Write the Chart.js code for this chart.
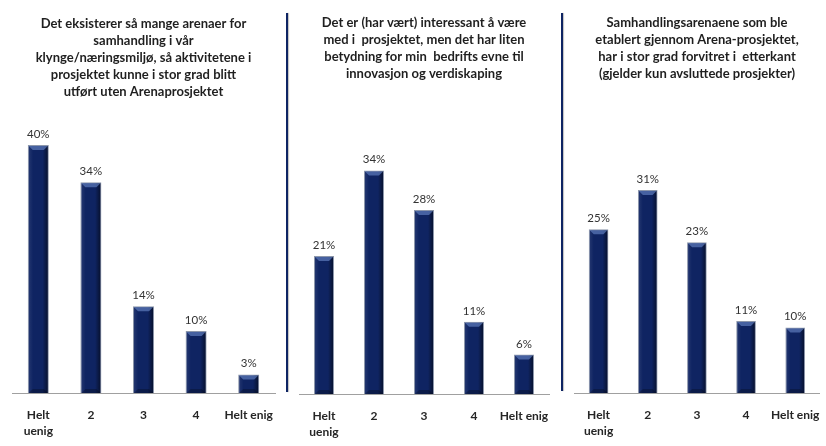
<!DOCTYPE html>
<html>
<head>
<meta charset="utf-8">
<script src="https://cdn.jsdelivr.net/npm/chart.js@4.4.0/dist/chart.umd.min.js"></script>
<style>
  html, body { margin: 0; padding: 0; background: #fff; }
  body { width: 826px; height: 446px; position: relative; overflow: hidden; }
  .panel { position: absolute; top: 0; height: 446px; }
  .divider { position: absolute; top: 13px; width: 2px; background: #0e2463; box-shadow: 1px 0 1px rgba(0, 0, 0, 0.25); }
</style>
</head>
<body>
<div class="panel" style="left:0; width:287px"><canvas id="c1"></canvas></div>
<div class="panel" style="left:289px; width:270px"><canvas id="c2"></canvas></div>
<div class="panel" style="left:564px; width:262px"><canvas id="c3"></canvas></div>
<div class="divider" style="left:286px; height:379px"></div>
<div class="divider" style="left:561px; height:378px"></div>
<script>
// data
const categories = [['Helt', 'uenig'], '2', '3', '4', 'Helt enig'];
const title1 = ['Det eksisterer så mange arenaer for', 'samhandling i vår', 'klynge/næringsmiljø, så aktivitetene i', 'prosjektet kunne i stor grad blitt', 'utført uten Arenaprosjektet'];
const title2 = ['Det er (har vært) interessant å være', 'med i  prosjektet, men det har liten', 'betydning for min  bedrifts evne til', 'innovasjon og verdiskaping'];
const title3 = ['Samhandlingsarenaene som ble', 'etablert gjennom Arena-prosjektet,', 'har i stor grad forvitret i  etterkant', '(gjelder kun avsluttede prosjekter)'];
const values1 = [40, 34, 14, 10, 3];
const values2 = [21, 34, 28, 11, 6];
const values3 = [25, 31, 23, 11, 10];
const yMax = [45, 40, 40];

// skygge/bevel på stolpene + prosentetiketter
const barShade = {
  id: 'barShade',
  afterDatasetsDraw(chart) {
    const { ctx } = chart;
    const ds = chart.data.datasets[0];
    chart.getDatasetMeta(0).data.forEach((bar, i) => {
      const { x, y, base, width } = bar.getProps(['x', 'y', 'base', 'width'], true);
      const l = x - width / 2;
      const r = x + width / 2;
      ctx.save();
      const g = ctx.createLinearGradient(l, 0, r, 0);
      g.addColorStop(0, 'rgba(255,255,255,0.10)');
      g.addColorStop(0.25, 'rgba(255,255,255,0)');
      g.addColorStop(0.7, 'rgba(0,0,0,0)');
      g.addColorStop(1, 'rgba(0,0,0,0.6)');
      ctx.fillStyle = g;
      ctx.fillRect(l + 1, y + 1, width - 2, base - y - 1);
      // lys kant øverst
      ctx.fillStyle = 'rgba(100,130,195,0.65)';
      ctx.beginPath();
      ctx.moveTo(l + 1, y + 1);
      ctx.lineTo(r - 1, y + 1);
      ctx.lineTo(r - 5, y + 5);
      ctx.lineTo(l + 5, y + 5);
      ctx.closePath();
      ctx.fill();
      // mørk kant nederst
      ctx.fillStyle = 'rgba(0,0,0,0.25)';
      ctx.beginPath();
      ctx.moveTo(l + 1, base);
      ctx.lineTo(r - 1, base);
      ctx.lineTo(r - 5, base - 4);
      ctx.lineTo(l + 5, base - 4);
      ctx.closePath();
      ctx.fill();
      // etikett
      ctx.fillStyle = '#333333';
      ctx.font = '11.5px Lato';
      ctx.textAlign = 'center';
      ctx.textBaseline = 'bottom';
      ctx.fillText(`${ds.data[i]}%`, x, y - 5);
      ctx.restore();
    });
  },
};

function makeChart(canvasId, titleLines, values, max, pad, axisHeight, titlePad) {
  return new Chart(document.getElementById(canvasId), {
    type: 'bar',
    data: {
      labels: categories,
      datasets: [{
        data: values,
        backgroundColor: '#0f2462',
        borderColor: '#8d97ab',
        borderWidth: 1,
        categoryPercentage: 1,
        barPercentage: 0.4,
      }],
    },
    options: {
      responsive: true,
      maintainAspectRatio: false,
      animation: false,
      layout: { padding: { left: pad[0], right: pad[1], top: 0, bottom: 0 } },
      plugins: {
        legend: { display: false },
        tooltip: { enabled: false },
        title: {
          display: true,
          text: titleLines,
          color: '#1f1f1f',
          font: { family: 'Lato', weight: 'bold', size: 13, lineHeight: '17px' },
          padding: { top: titlePad[0], bottom: titlePad[1] },
        },
      },
      scales: {
        x: {
          grid: { display: false },
          border: { display: true, color: '#a0a0a0', width: 1 },
          ticks: {
            color: '#262626',
            font: { family: 'Lato', weight: 'bold', size: 12, lineHeight: 1.333 },
            padding: 6,
            maxRotation: 0,
            autoSkip: false,
          },
          afterFit: (s) => { s.height = axisHeight; },
        },
        y: { display: false, min: 0, max },
      },
    },
    plugins: [barShade],
  });
}

makeChart('c1', title1, values1, yMax[0], [12, 12], 53, [15, 14]);
makeChart('c2', title2, values2, yMax[1], [10, 10], 52, [14, 49]);
makeChart('c3', title3, values3, yMax[2], [10, 6], 53, [14, 49]);
</script>
</body>
</html>
